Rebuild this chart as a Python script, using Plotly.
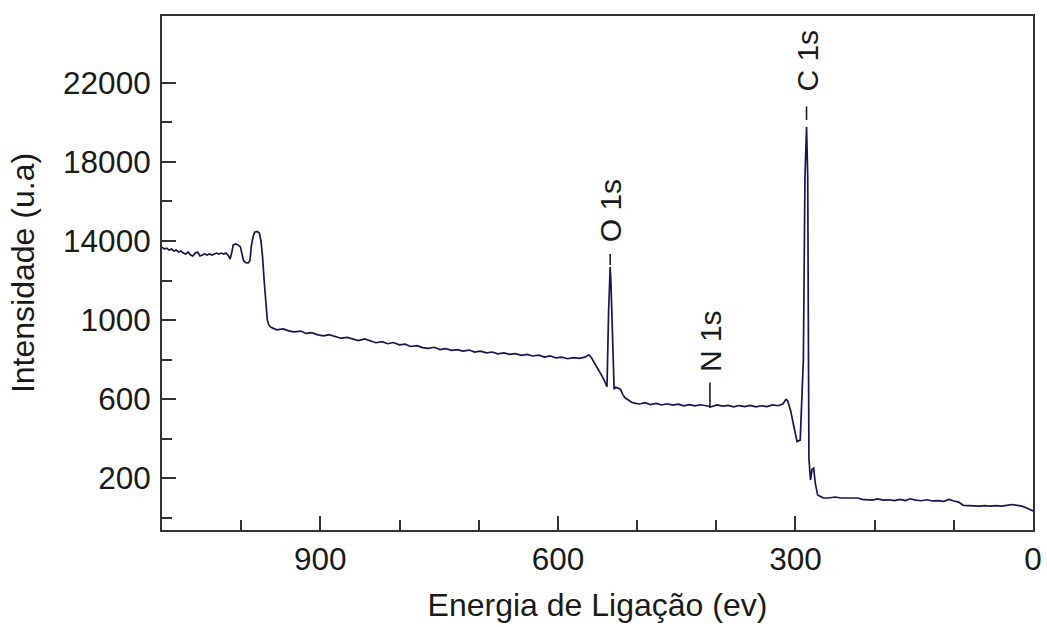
import plotly.graph_objects as go

# binding energy (eV) and intensity
energia = [
    1100, 1097, 1094, 1091, 1088, 1085, 1082, 1079, 1076, 1073, 1070, 1067, 1064, 1061,
    1058, 1055, 1052, 1049, 1046, 1043, 1040, 1037, 1034, 1031, 1028, 1025, 1022, 1019,
    1016, 1014, 1012, 1010, 1007, 1004, 1001, 999, 997, 994, 991, 989, 987, 985, 983,
    980, 977, 975, 973, 971, 969, 967, 965, 963, 960,
    955, 947, 940, 933, 925, 918, 911, 903, 896, 889, 881, 874, 866, 859, 852, 844, 837,
    830, 822, 815, 808, 800, 793, 786, 778, 771, 764, 756, 749, 742, 734, 727, 720, 712,
    705, 698, 690, 683, 676, 668, 661, 654, 646, 639, 632, 624, 617, 610, 602, 595, 588,
    580, 573, 566, 561, 558, 555, 551, 547, 544, 541, 538, 536, 534, 533, 531, 529, 527,
    524, 521, 518, 515, 511, 507, 502,
    497, 490, 483, 476, 469, 462, 455, 448, 441, 434, 427, 420, 413, 406, 399, 392, 385,
    378, 371, 364, 357, 350, 343, 336, 329, 322, 316, 312, 310, 306, 303, 300, 298, 294,
    292, 290, 288, 286, 284.5, 283, 281, 279, 277, 275, 272, 268,
    265, 258, 250, 242, 235, 228, 221, 216, 210, 203, 196, 189, 182, 175, 168, 161, 155,
    148, 141, 134, 127, 120, 113, 106, 100, 94, 88, 82, 75, 68, 61, 54, 47, 40, 33, 26,
    20, 14, 8, 4, 0,
]
intensidade = [
    1369, 1359, 1364, 1354, 1359, 1349, 1354, 1344, 1349, 1339, 1334, 1344, 1329, 1324,
    1339, 1344, 1324, 1329, 1334, 1329, 1334, 1329, 1334, 1339, 1334, 1339, 1334, 1339,
    1324, 1309, 1340, 1380, 1385, 1380, 1370, 1340, 1300, 1290, 1289, 1300, 1380, 1420, 1445,
    1448, 1440, 1400, 1320, 1200, 1100, 1000, 975, 965, 959,
    950, 955, 945, 940, 944, 932, 936, 925, 920, 926, 915, 908, 912, 902, 896, 904, 893,
    885, 890, 880, 886, 874, 878, 866, 870, 860, 856, 862, 850, 855, 846, 850, 843, 848,
    838, 842, 834, 838, 829, 834, 826, 830, 821, 826, 818, 822, 812, 818, 808, 812, 804,
    810, 806, 812, 824, 812, 790, 765, 740, 715, 690, 662, 1040, 1268, 1187, 949, 650,
    660, 655, 650, 622, 605, 595, 584, 578,
    575, 582, 572, 578, 570, 576, 569, 574, 566, 572, 565, 571, 566, 561, 570, 564, 568,
    560, 567, 562, 568, 560, 566, 562, 570, 566, 575, 598, 592, 540, 480, 420, 385, 392,
    570, 800, 1724, 1977, 1724, 300, 190, 245, 250, 175, 114, 104,
    100, 99, 104, 99, 100, 99, 99, 92, 90, 88, 94, 88, 90, 86, 92, 86, 95,
    88, 85, 90, 84, 86, 82, 92, 84, 78, 62, 60, 60, 58, 60, 58, 60, 58, 62, 66,
    62, 58, 48, 42, 33,
]

# peak labels: name, position (eV), intensity at the marker tip
picos = ["O 1s", "N 1s", "C 1s"]
picos_be = [534, 408, 286]
picos_int = [1268, 554, 1977]

# y axis tick labels as printed on the original
y_ticks = [200, 600, 1000, 1400, 1800, 2200]
y_ticktext = ["200", "600", "1000", "14000", "18000", "22000"]
y_minor = [0, 400, 800, 1200, 1600, 2000]
x_ticks = [900, 600, 300, 0]
x_minor = [1000, 800, 700, 500, 400, 200, 100]

FONT = "Liberation Sans, Arial, sans-serif"
TXT = "#1a1a1a"

fig = go.Figure()
fig.add_scatter(
    x=energia, y=intensidade, mode="lines",
    line=dict(color="#161650", width=1.7),
    showlegend=False,
)

label_offset = [-56, -67, -66]
start_gap = [10, 9, 13]
tip_gap = [2, 0, 7]
for nome, be, it, ay, sg, tg in zip(picos, picos_be, picos_int, label_offset, start_gap, tip_gap):
    fig.add_annotation(
        x=be, y=it, text=nome, textangle=-90,
        showarrow=True, arrowhead=0, arrowwidth=1.5, arrowcolor="#111",
        ax=0, ay=ay, standoff=tg, startstandoff=sg,
        font=dict(family=FONT, size=30, color=TXT),
    )

axis_common = dict(
    showline=True, linecolor="#333", linewidth=2, mirror=True,
    ticks="inside", tickcolor="#333", tickwidth=2, ticklen=14,
    showgrid=False, zeroline=False, automargin=False,
    tickfont=dict(family=FONT, size=31.5, color=TXT),
)

fig.update_xaxes(
    range=[1100, 0], tickmode="array", tickvals=x_ticks,
    minor=dict(tickmode="array", tickvals=x_minor, ticks="inside", ticklen=10,
               tickcolor="#333", tickwidth=2, showgrid=False),
    title=dict(text="Energia de Ligação (ev)", font=dict(family=FONT, size=32, color=TXT), standoff=18),
    **axis_common,
)
fig.update_yaxes(
    range=[-63, 2539], tickmode="array", tickvals=y_ticks, ticktext=y_ticktext,
    ticklabelstandoff=3,
    minor=dict(tickmode="array", tickvals=y_minor, ticks="inside", ticklen=10,
               tickcolor="#333", tickwidth=2, showgrid=False),
    title=dict(text="Intensidade (u.a)", font=dict(family=FONT, size=32, color=TXT), standoff=19),
    **axis_common,
)

fig.update_layout(
    width=1047, height=627,
    margin=dict(l=162, r=14, t=16, b=97),
    plot_bgcolor="white", paper_bgcolor="white",
)

# drop the default page margin so the figure fills the window exactly
fig.write_html("out.html", config={"displayModeBar": False},
               post_script="document.body.style.margin='0';")
